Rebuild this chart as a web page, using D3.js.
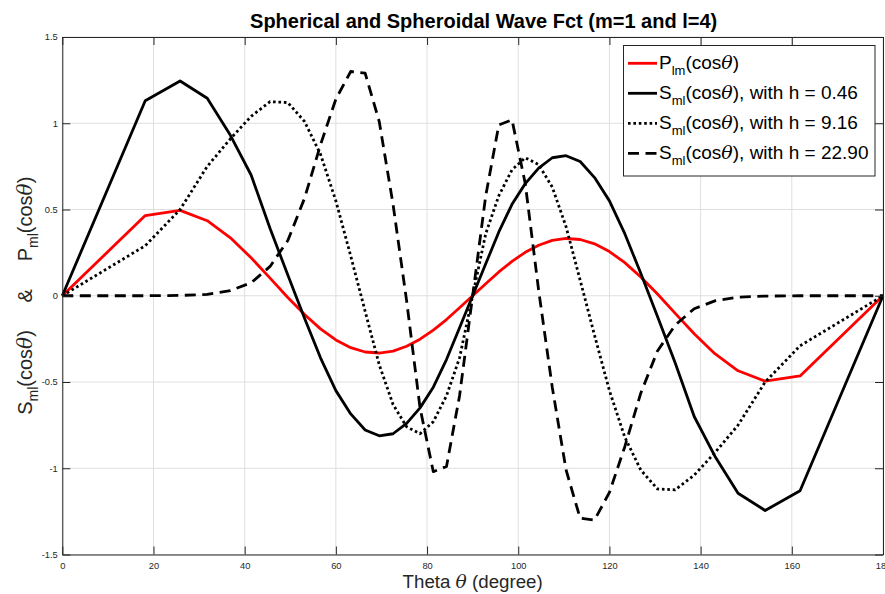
<!DOCTYPE html>
<html>
<head>
<meta charset="utf-8">
<script src="https://cdn.jsdelivr.net/npm/d3@7"></script>
<style>
  body { margin: 0; background: #fff; }
  text { font-family: "Liberation Sans", Arial, Helvetica, sans-serif; white-space: pre; }
</style>
</head>
<body>
<svg id="chart" width="885" height="594"></svg>
<script>
// Sample angles (degrees); cos(theta) runs from 1 to -1 in equal steps
const theta = [0, 18.19, 25.84, 31.79, 36.87, 41.41, 45.57, 49.46, 53.13, 56.63, 60,
  63.26, 66.42, 69.51, 72.54, 75.52, 78.46, 81.37, 84.26, 87.13, 90,
  92.87, 95.74, 98.63, 101.54, 104.48, 107.46, 110.49, 113.58, 116.74, 120,
  123.37, 126.87, 130.54, 134.43, 138.59, 143.13, 148.21, 154.16, 161.81, 180];

// Associated Legendre function P_lm(cos theta), m=1, l=4 (normalised)
const pLegendre = [0, 0.465, 0.495, 0.435, 0.336, 0.220, 0.102, -0.010, -0.109, -0.192, -0.256,
  -0.301, -0.326, -0.332, -0.321, -0.293, -0.252, -0.199, -0.138, -0.070, 0,
  0.070, 0.138, 0.199, 0.252, 0.293, 0.321, 0.332, 0.326, 0.301, 0.256,
  0.192, 0.109, 0.010, -0.102, -0.220, -0.336, -0.435, -0.495, -0.465, 0];

// Spheroidal angular functions S_ml(cos theta) for three values of h
const sH046 = [0, 1.13, 1.245, 1.145, 0.93, 0.70, 0.39, 0.12, -0.13, -0.36, -0.55,
  -0.685, -0.778, -0.812, -0.80, -0.74, -0.65, -0.53, -0.37, -0.185, 0,
  0.185, 0.37, 0.53, 0.65, 0.74, 0.80, 0.812, 0.778, 0.685, 0.55,
  0.36, 0.13, -0.12, -0.39, -0.70, -0.93, -1.145, -1.245, -1.13, 0];

const sH916 = [0, 0.29, 0.50, 0.75, 0.91, 1.04, 1.125, 1.12, 1.01, 0.82, 0.55,
  0.23, -0.09, -0.40, -0.63, -0.76, -0.80, -0.73, -0.58, -0.36, 0,
  0.36, 0.58, 0.73, 0.80, 0.76, 0.63, 0.40, 0.09, -0.23, -0.55,
  -0.82, -1.01, -1.12, -1.125, -1.04, -0.91, -0.75, -0.50, -0.29, 0];

const sH2290 = [0, 0, 0.002, 0.008, 0.03, 0.075, 0.17, 0.32, 0.565, 0.875, 1.14,
  1.30, 1.29, 1.01, 0.53, -0.03, -0.65, -1.02, -0.99, -0.58, 0,
  0.58, 0.99, 1.02, 0.65, 0.03, -0.53, -1.01, -1.29, -1.30, -1.14,
  -0.875, -0.565, -0.32, -0.17, -0.075, -0.03, -0.008, -0.002, 0, 0];

const xTicks = [0, 20, 40, 60, 80, 100, 120, 140, 160, 180];
const yTicks = [-1.5, -1, -0.5, 0, 0.5, 1, 1.5];
const yTickLabels = ["-1.5", "-1", "-0.5", "0", "0.5", "1", "1.5"];

const titleText = "Spherical and Spheroidal Wave Fct (m=1 and l=4)";

// Label pieces: plain text, subscript, italic greek
const legendLabels = [
  [["P"], ["lm", "sub"], ["(cos"], ["θ", "it"], [")"]],
  [["S"], ["ml", "sub"], ["(cos"], ["θ", "it"], ["), with h = 0.46"]],
  [["S"], ["ml", "sub"], ["(cos"], ["θ", "it"], ["), with h = 9.16"]],
  [["S"], ["ml", "sub"], ["(cos"], ["θ", "it"], ["), with h = 22.90"]]
];
const yLabel = [["S"], ["ml", "sub"], ["(cos"], ["θ", "it"], [")     &     P"], ["ml", "sub"], ["(cos"], ["θ", "it"], [")"]];
const xLabel = [["Theta "], ["θ", "it"], [" (degree)"]];

const series = [
  { values: pLegendre, color: "#ff0000", dash: null },
  { values: sH046, color: "#000000", dash: null },
  { values: sH916, color: "#000000", dash: "2.6,2.8" },
  { values: sH2290, color: "#000000", dash: "11,6.5" }
];

const svg = d3.select("#chart");
const plotL = 62.3, plotR = 883, plotT = 37, plotB = 554.5;
const axisColor = "#262626";

const x = d3.scaleLinear().domain([0, 180]).range([plotL, plotR]);
const y = d3.scaleLinear().domain([-1.5, 1.5]).range([plotB, plotT]);

// Grid
const grid = svg.append("g");
grid.selectAll("line.gx").data(xTicks).join("line")
  .attr("x1", d => x(d)).attr("x2", d => x(d))
  .attr("y1", plotT).attr("y2", plotB)
  .attr("stroke", "#dfdfdf").attr("stroke-width", 1);
grid.selectAll("line.gy").data(yTicks).join("line")
  .attr("x1", plotL).attr("x2", plotR)
  .attr("y1", d => y(d)).attr("y2", d => y(d))
  .attr("stroke", "#dfdfdf").attr("stroke-width", 1);

// Curves
const line = d3.line().x((d, i) => x(theta[i])).y(d => y(d));
const curves = svg.append("g");
series.forEach(s => {
  curves.append("path")
    .attr("d", line(s.values))
    .attr("fill", "none")
    .attr("stroke", s.color)
    .attr("stroke-width", 2.8)
    .attr("stroke-linejoin", "round")
    .attr("stroke-dasharray", s.dash);
});

// Axes with inward ticks on all four sides
function styleAxis(g) {
  g.select(".domain").attr("stroke", axisColor).attr("stroke-width", 1);
  g.selectAll(".tick line").attr("stroke", axisColor).attr("stroke-width", 1);
  g.selectAll(".tick text").attr("fill", axisColor).style("font-size", "9.3px")
    .style("font-family", "'Liberation Sans', Arial, sans-serif");
}
svg.append("g").attr("transform", `translate(0,${plotB})`)
  .call(d3.axisBottom(x).tickValues(xTicks).tickSizeInner(-8).tickSizeOuter(0).tickPadding(7.5)
    .tickFormat(d3.format("d")))
  .call(styleAxis);
svg.append("g").attr("transform", `translate(0,${plotT})`)
  .call(d3.axisTop(x).tickValues(xTicks).tickSizeInner(-8).tickSizeOuter(0).tickFormat(""))
  .call(styleAxis);
svg.append("g").attr("transform", `translate(${plotL},0)`)
  .call(d3.axisLeft(y).tickValues(yTicks).tickSizeInner(-8).tickSizeOuter(0).tickPadding(4.5)
    .tickFormat((d, i) => yTickLabels[i]))
  .call(styleAxis);
svg.append("g").attr("transform", `translate(${plotR},0)`)
  .call(d3.axisRight(y).tickValues(yTicks).tickSizeInner(-8).tickSizeOuter(0).tickFormat(""))
  .call(styleAxis);

// Rich text helper for subscripts and italic theta
function richText(sel, parts, size, subSize, subShift) {
  let shifted = false;
  parts.forEach(([t, kind]) => {
    const ts = sel.append("tspan").text(t);
    if (kind === "sub") {
      ts.style("font-size", subSize + "px").attr("dy", subShift);
      shifted = true;
    } else {
      ts.style("font-size", size + "px");
      if (shifted) { ts.attr("dy", -subShift); shifted = false; }
      if (kind === "it") ts.style("font-style", "italic").style("font-family", "'DejaVu Serif', serif");
    }
  });
}

// Title
svg.append("text")
  .attr("x", (plotL + plotR) / 2 + 11).attr("y", 28)
  .attr("text-anchor", "middle")
  .style("font-size", "20px").style("font-weight", "bold").attr("fill", "#000")
  .text(titleText);

// X label
const xl = svg.append("text")
  .attr("x", (plotL + plotR) / 2).attr("y", 588)
  .attr("text-anchor", "middle").attr("fill", axisColor);
richText(xl, xLabel, 18.7, 13, 6);

// Y label
const yl = svg.append("text")
  .attr("transform", `translate(32,${y(0)}) rotate(-90)`)
  .attr("text-anchor", "middle").attr("fill", axisColor);
richText(yl, yLabel, 20, 14, 6);

// Legend
const lg = svg.append("g");
lg.append("rect")
  .attr("x", 623.5).attr("y", 45.5).attr("width", 251.5).attr("height", 130.5)
  .attr("fill", "#fff").attr("stroke", axisColor).attr("stroke-width", 1);
series.forEach((s, i) => {
  const cy = 63.3 + i * 30;
  lg.append("line")
    .attr("x1", 628).attr("x2", 657).attr("y1", cy).attr("y2", cy)
    .attr("stroke", s.color).attr("stroke-width", 2.8)
    .attr("stroke-dasharray", s.dash);
  const t = lg.append("text").attr("x", 659).attr("y", cy + 5.5).attr("fill", "#000");
  richText(t, legendLabels[i], 19, 13, 6);
});
</script>
</body>
</html>
